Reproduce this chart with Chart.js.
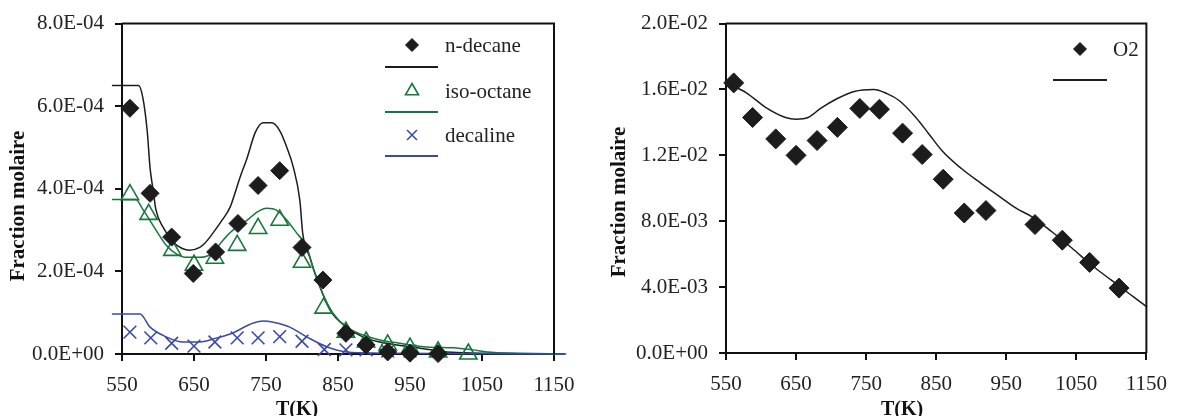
<!DOCTYPE html>
<html>
<head>
<meta charset="utf-8">
<script src="https://cdn.jsdelivr.net/npm/chart.js@4/dist/chart.umd.min.js"></script>
<style>
  html, body { margin: 0; padding: 0; background: #fff; }
  #wrap { position: relative; width: 1179px; height: 416px; overflow: hidden; }
  canvas { position: absolute; top: 0; }
  #left { left: 0; }
  #right { left: 590px; }
</style>
</head>
<body>
<div id="wrap">
  <canvas id="left" width="590" height="416"></canvas>
  <canvas id="right" width="589" height="416"></canvas>
</div>
<script>
// --- data ---
const X_TICKS = [550, 650, 750, 850, 950, 1050, 1150];

// left panel: experiments
const T_DECANE_EXP = [561, 589, 619, 649, 680, 711, 739, 769, 800, 829, 861, 889, 919, 950, 989];
const DECANE_EXP = [5.95e-4, 3.89e-4, 2.83e-4, 1.95e-4, 2.47e-4, 3.16e-4, 4.08e-4, 4.44e-4, 2.58e-4, 1.79e-4, 0.5e-4, 0.22e-4, 0.05e-4, 0.02e-4, 0.01e-4];
const T_ISO_EXP = [561, 587, 620, 650, 679, 710, 739, 769, 800, 830, 861, 889, 919, 950, 989, 1031];
const ISO_EXP = [3.86e-4, 3.38e-4, 2.51e-4, 2.15e-4, 2.32e-4, 2.63e-4, 3.04e-4, 3.24e-4, 2.22e-4, 1.11e-4, 0.53e-4, 0.29e-4, 0.22e-4, 0.14e-4, 0.05e-4, 0.0];
const T_DECALINE_EXP = [561, 590, 619, 650, 679, 710, 739, 769, 800, 831, 861, 889, 919, 950];
const DECALINE_EXP = [0.53e-4, 0.39e-4, 0.26e-4, 0.19e-4, 0.29e-4, 0.39e-4, 0.39e-4, 0.42e-4, 0.31e-4, 0.11e-4, 0.1e-4, 0.1e-4, 0.07e-4, 0.07e-4];

// left panel: model
const T_DECANE_MOD = [536, 573, 579, 585, 589, 593, 597, 607, 621, 633, 644, 658, 665, 676, 689, 700, 714, 724, 735, 746, 758, 769, 779, 788, 797, 801, 811, 818, 839, 862, 885, 908, 932, 964, 1001, 1047, 1107, 1165];
const DECANE_MOD = [6.5e-4, 6.5e-4, 6.2e-4, 5.4e-4, 4.5e-4, 4.0e-4, 3.5e-4, 3.07e-4, 2.71e-4, 2.56e-4, 2.51e-4, 2.58e-4, 2.68e-4, 2.92e-4, 3.24e-4, 3.55e-4, 4.28e-4, 4.76e-4, 5.36e-4, 5.6e-4, 5.6e-4, 5.41e-4, 5.0e-4, 4.52e-4, 3.72e-4, 2.92e-4, 2.34e-4, 1.96e-4, 1.06e-4, 0.65e-4, 0.41e-4, 0.29e-4, 0.22e-4, 0.14e-4, 0.05e-4, 0.02e-4, 0, 0];
const T_ISO_MOD = [536, 569, 579, 599, 612, 626, 640, 658, 676, 690, 704, 724, 737, 751, 765, 779, 793, 807, 815, 829, 843, 862, 885, 908, 932, 974, 1010, 1037, 1057, 1103, 1163];
const ISO_MOD = [3.74e-4, 3.74e-4, 3.5e-4, 2.95e-4, 2.62e-4, 2.42e-4, 2.34e-4, 2.34e-4, 2.45e-4, 2.75e-4, 3.0e-4, 3.24e-4, 3.43e-4, 3.53e-4, 3.48e-4, 3.24e-4, 2.92e-4, 2.58e-4, 2.1e-4, 1.45e-4, 0.99e-4, 0.65e-4, 0.46e-4, 0.34e-4, 0.27e-4, 0.17e-4, 0.15e-4, 0.1e-4, 0.05e-4, 0.02e-4, 0];
const T_DECALINE_MOD = [536, 575, 589, 612, 635, 658, 682, 704, 728, 746, 760, 783, 807, 835, 862, 908, 1167];
const DECALINE_MOD = [0.97e-4, 0.97e-4, 0.65e-4, 0.41e-4, 0.29e-4, 0.29e-4, 0.39e-4, 0.51e-4, 0.72e-4, 0.8e-4, 0.77e-4, 0.65e-4, 0.41e-4, 0.17e-4, 0.05e-4, 0.02e-4, 0];

// right panel: O2
const T_O2_EXP = [561, 588, 621, 650, 680, 709, 741, 769, 802, 830, 860, 890, 921, 991, 1030, 1069, 1111];
const O2_EXP = [16.4e-3, 14.3e-3, 13.0e-3, 12.0e-3, 12.9e-3, 13.7e-3, 14.85e-3, 14.8e-3, 13.35e-3, 12.05e-3, 10.55e-3, 8.5e-3, 8.65e-3, 7.8e-3, 6.85e-3, 5.5e-3, 3.94e-3];
const T_O2_MOD = [551, 579, 607, 635, 650, 667, 685, 709, 733, 761, 779, 797, 821, 839, 858, 886, 914, 942, 964, 988, 1016, 1044, 1072, 1100, 1128, 1151, 1165];
const O2_MOD = [16.4e-3, 15.8e-3, 14.9e-3, 14.3e-3, 14.2e-3, 14.3e-3, 14.85e-3, 15.45e-3, 15.88e-3, 16.0e-3, 15.76e-3, 15.33e-3, 14.3e-3, 13.33e-3, 12.3e-3, 11.2e-3, 10.3e-3, 9.45e-3, 8.79e-3, 8.24e-3, 7.33e-3, 6.36e-3, 5.33e-3, 4.42e-3, 3.52e-3, 2.79e-3, 2.36e-3];

const BLACK = "#1c1c1c";
const GREEN = "#17763a";
const BLUE = "#3a49a8";
const FONT = '"Liberation Serif", "Times New Roman", serif';

Chart.defaults.font.family = FONT;
Chart.defaults.font.size = 21;
Chart.defaults.color = "#222";

const pts = (xs, ys) => xs.map((x, i) => ({ x, y: ys[i] }));

// 6.0E-04 style labels
function sci(v) {
  if (Math.abs(v) < 1e-12) return "0.0E+00";
  const [m, e] = Number(v).toExponential(1).split("e");
  const n = Number(e);
  return `${m}E${n < 0 ? "-" : "+"}${String(Math.abs(n)).padStart(2, "0")}`;
}

function markers(label, xs, ys, style, color, radius, fill, order) {
  return {
    label, data: pts(xs, ys), showLine: false, order, clip: false,
    pointStyle: style, pointRadius: radius, pointHoverRadius: radius,
    pointBorderColor: color, pointBackgroundColor: fill ? color : "rgba(0,0,0,0)",
    pointBorderWidth: fill ? 1 : 1.6,
  };
}

function model(xs, ys, color, order) {
  return {
    label: "", data: pts(xs, ys), showLine: true, order, clip: false,
    borderColor: color, borderWidth: 1.5, pointRadius: 0, cubicInterpolationMode: "monotone",
  };
}

// frame, legend and axis titles drawn on the canvas
const deco = {
  id: "deco",
  afterDraw(chart, _args, o) {
    const { ctx, chartArea: a } = chart;
    ctx.save();
    ctx.strokeStyle = "#111";
    ctx.lineWidth = 2;
    ctx.beginPath();
    ctx.moveTo(a.left, a.top);
    ctx.lineTo(a.right, a.top);
    ctx.lineTo(a.right, a.bottom);
    ctx.stroke();
    ctx.restore();

    for (const it of o.legend) {
      ctx.save();
      if (it.line) {
        ctx.strokeStyle = it.color;
        ctx.lineWidth = 2;
        ctx.beginPath();
        ctx.moveTo(it.x0, it.y);
        ctx.lineTo(it.x1, it.y);
        ctx.stroke();
      } else {
        ctx.fillStyle = it.fill ? it.color : "rgba(0,0,0,0)";
        ctx.strokeStyle = it.color;
        ctx.lineWidth = it.fill ? 1 : 1.6;
        Chart.helpers.drawPoint(ctx, { pointStyle: it.style, radius: it.r, borderWidth: ctx.lineWidth, rotation: 0 }, it.x, it.y);
        ctx.fillStyle = "#222";
        ctx.font = `21px ${FONT}`;
        ctx.textBaseline = "middle";
        ctx.fillText(it.text, it.tx, it.y + 1);
      }
      ctx.restore();
    }

    ctx.save();
    ctx.fillStyle = "#111";
    ctx.font = `bold 20px ${FONT}`;
    ctx.textAlign = "center";
    ctx.textBaseline = "alphabetic";
    ctx.fillText("T(K)", o.xTitle.x, o.xTitle.y);
    ctx.translate(o.yTitle.x, o.yTitle.y);
    ctx.rotate(-Math.PI / 2);
    ctx.textBaseline = "middle";
    ctx.font = `bold 21px ${FONT}`;
    ctx.fillText("Fraction molaire", 0, 0);
    ctx.restore();
  },
};

function axes(yMax, yStep, yWidth, xHeight) {
  const grid = { display: true, drawOnChartArea: false, drawTicks: true, tickLength: 7, color: "#111", lineWidth: 2 };
  return {
    x: {
      type: "linear", min: 550, max: 1150,
      afterBuildTicks: (s) => { s.ticks = X_TICKS.map((v) => ({ value: v })); },
      afterFit: (s) => { s.height = xHeight; },
      ticks: { padding: 12, maxRotation: 0, color: "#222", callback: (v) => String(v) },
      grid, border: { display: true, color: "#111", width: 2 },
    },
    y: {
      type: "linear", min: 0, max: yMax,
      ticks: { stepSize: yStep, padding: 11, callback: sci, color: "#222" },
      afterFit: (s) => { s.width = yWidth; },
      grid, border: { display: true, color: "#111", width: 2 },
    },
  };
}

const base = {
  responsive: false,
  animation: false,
  events: [],
  plugins: { legend: { display: false }, tooltip: { enabled: false } },
};

new Chart(document.getElementById("left"), {
  type: "scatter",
  data: {
    datasets: [
      markers("n-decane", T_DECANE_EXP, DECANE_EXP, "rectRot", BLACK, 9, true, 1),
      markers("iso-octane", T_ISO_EXP, ISO_EXP, "triangle", GREEN, 10, false, 2),
      markers("decaline", T_DECALINE_EXP, DECALINE_EXP, "crossRot", BLUE, 9, false, 3),
      model(T_DECANE_MOD, DECANE_MOD, BLACK, 6),
      model(T_ISO_MOD, ISO_MOD, GREEN, 5),
      model(T_DECALINE_MOD, DECALINE_MOD, BLUE, 4),
    ],
  },
  options: {
    ...base,
    layout: { padding: { top: 23, right: 36, left: 0, bottom: 0 } },
    scales: axes(8e-4, 2e-4, 122, 62),
    plugins: {
      ...base.plugins,
      deco: {
        legend: [
          { style: "rectRot", r: 6.5, fill: true, color: BLACK, x: 412, y: 45, text: "n-decane", tx: 445 },
          { line: true, color: BLACK, x0: 385, x1: 438, y: 67 },
          { style: "triangle", r: 7.5, fill: false, color: GREEN, x: 412, y: 91, text: "iso-octane", tx: 445 },
          { line: true, color: GREEN, x0: 385, x1: 438, y: 112 },
          { style: "crossRot", r: 7, fill: false, color: BLUE, x: 412, y: 135, text: "decaline", tx: 445 },
          { line: true, color: BLUE, x0: 385, x1: 438, y: 156 },
        ],
        xTitle: { x: 297, y: 415 },
        yTitle: { x: 19, y: 206 },
      },
    },
  },
  plugins: [deco],
});

new Chart(document.getElementById("right"), {
  type: "scatter",
  data: {
    datasets: [
      markers("O2", T_O2_EXP, O2_EXP, "rectRot", BLACK, 10, true, 1),
      model(T_O2_MOD, O2_MOD, BLACK, 2),
    ],
  },
  options: {
    ...base,
    layout: { padding: { top: 23, right: 23, left: 0, bottom: 0 } },
    scales: axes(0.02, 0.004, 136, 63),
    plugins: {
      ...base.plugins,
      deco: {
        legend: [
          { style: "rectRot", r: 6.5, fill: true, color: BLACK, x: 490, y: 49, text: "O2", tx: 523 },
          { line: true, color: BLACK, x0: 463, x1: 517, y: 80 },
        ],
        xTitle: { x: 312, y: 415 },
        yTitle: { x: 30, y: 202 },
      },
    },
  },
  plugins: [deco],
});
</script>
</body>
</html>
